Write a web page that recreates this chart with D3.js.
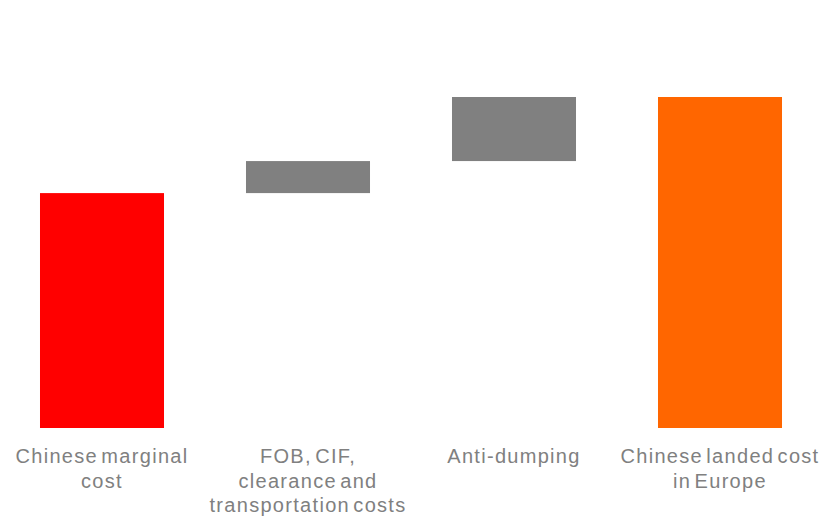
<!DOCTYPE html>
<html>
<head>
<meta charset="utf-8">
<script src="https://cdn.jsdelivr.net/npm/d3@7"></script>
<style>
  html, body { margin: 0; padding: 0; background: #fff; }
  svg text { font-family: "Liberation Sans", Arial, sans-serif; }
</style>
</head>
<body>
<svg id="chart" width="840" height="519"></svg>
<script>
// Cost build-up, one entry per step
const categories = [
  ["Chinese marginal", "cost"],
  ["FOB, CIF,", "clearance and", "transportation costs"],
  ["Anti-dumping"],
  ["Chinese landed cost", "in Europe"]
];
const stepValues = [1100, 150, 300];      // increments
const stepKinds = ["base", "delta", "delta", "total"];
const colors = { base: "#ff0000", delta: "#808080", total: "#ff6600" };

// running start/end of each waterfall bar
const bars = [];
let running = 0;
categories.forEach((c, i) => {
  const kind = stepKinds[i];
  if (kind === "total") {
    bars.push({ i, kind, y0: 0, y1: running });
  } else {
    const v = stepValues[i];
    bars.push({ i, kind, y0: running, y1: running + v });
    running += v;
  }
});

const svg = d3.select("#chart");

const x = d3.scaleBand()
  .domain(d3.range(categories.length))
  .range([-1, 823])
  .paddingInner(0.398)
  .paddingOuter(0.199);

const y = d3.scaleLinear()
  .domain([0, 1550])
  .range([428, 97]);

svg.append("g")
  .selectAll("rect")
  .data(bars)
  .join("rect")
  .attr("x", d => x(d.i))
  .attr("width", x.bandwidth())
  .attr("y", d => y(d.y1))
  .attr("height", d => y(d.y0) - y(d.y1))
  .attr("fill", d => colors[d.kind]);

// category labels under the bars
const labels = svg.append("g")
  .selectAll("text")
  .data(categories)
  .join("text")
  .attr("x", (d, i) => x(i) + x.bandwidth() / 2)
  .attr("y", 463)
  .attr("text-anchor", "middle")
  .attr("fill", "#808080")
  .attr("font-size", 20)
  .attr("letter-spacing", 1.3)
  .attr("word-spacing", -3.5);

labels.selectAll("tspan")
  .data(d => d)
  .join("tspan")
  .attr("x", function () { return this.parentNode.getAttribute("x"); })
  .attr("dy", (d, j) => j === 0 ? 0 : 24.5)
  .text(d => d);
</script>
</body>
</html>
